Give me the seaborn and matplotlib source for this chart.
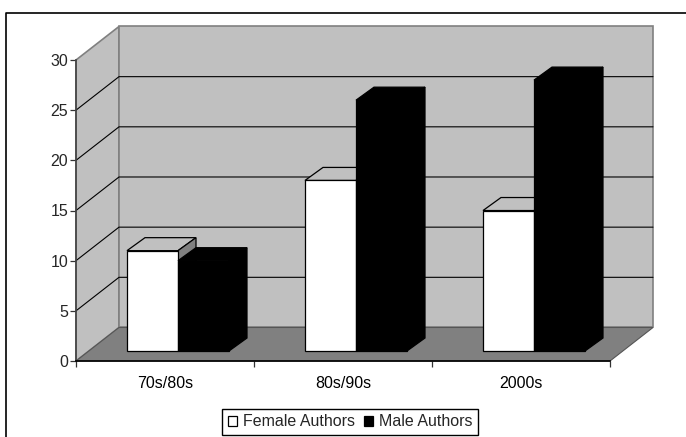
import pandas as pd
import matplotlib.pyplot as plt
import seaborn as sns
from matplotlib.lines import Line2D

periods = ['70s/80s', '80s/90s', '2000s']
female_authors = [10, 17, 14]
male_authors = [9, 25, 27]
y_ticks = [0, 5, 10, 15, 20, 25, 30]

df = pd.DataFrame({
    'period': periods * 2,
    'count': female_authors + male_authors,
    'author': ['Female Authors'] * 3 + ['Male Authors'] * 3,
})

sns.set_style('white')
plt.rcParams['font.family'] = ['Liberation Sans', 'DejaVu Sans']
plt.rcParams['font.size'] = 10

W, H = 686, 437
fig = plt.figure(figsize=(W / 100, H / 100), dpi=100, facecolor='white')


def axes_box(left, right, bottom, top):
    # pixel box, measured from the top of the image
    return [left / W, 1 - bottom / H, (right - left) / W, (bottom - top) / H]


# outer chart border, cut off by the image on the right and bottom
fig.add_artist(Line2D([6 / W, 6 / W, 1], [0, 1 - 13 / H, 1 - 13 / H], color='black', lw=1.2))

ax = fig.add_axes(axes_box(76, 610, 361, 60))
ax.set_xlim(-0.5, 2.5)
ax.set_ylim(0, 30)
ax.patch.set_alpha(0)

# depth of the fake 3d box, in data units
dx = 43 / 178
dy = 33.5 / 10.03

wall = '#c0c0c0'
floor = '#808080'
ax.fill([-0.5, -0.5 + dx, -0.5 + dx, -0.5], [0, dy, 30 + dy, 30], color=wall, ec=floor, lw=1.2, clip_on=False, zorder=0)
ax.fill([-0.5 + dx, 2.5 + dx, 2.5 + dx, -0.5 + dx], [dy, dy, 30 + dy, 30 + dy], color=wall, ec=floor, lw=1.2, clip_on=False, zorder=0)
ax.fill([-0.5, -0.5 + dx, 2.5 + dx, 2.5], [0, dy, dy, 0], color=floor, ec='#555555', lw=0.8, clip_on=False, zorder=0.5)

for t in y_ticks[1:-1]:
    ax.plot([-0.5, -0.5 + dx, 2.5 + dx], [t, t + dy, t + dy], color='black', lw=0.8, clip_on=False, zorder=0.2)

sns.despine(ax=ax, top=True, right=True)
ax.spines['left'].set_color('#444444')
ax.spines['left'].set_linewidth(1.2)
ax.spines['bottom'].set_color('black')
ax.spines['bottom'].set_linewidth(1.2)
ax.spines['bottom'].set_zorder(3)

ax.set_xticks(range(3))
ax.set_xticklabels(periods, fontsize=11.5)
ax.set_xticks([-0.5, 0.5, 1.5, 2.5], minor=True)
ax.set_yticks(y_ticks)
ax.tick_params(axis='x', which='major', length=0, pad=11, colors='black')
ax.tick_params(axis='x', which='minor', bottom=True, length=4, width=0.9, color='#333333')
ax.tick_params(axis='y', left=True, length=4, width=0.9, pad=1.5, labelsize=11.5, color='#333333')

# bars sit a bit into the box, so they get their own shifted axes
ax_bar = fig.add_axes(axes_box(89, 623, 351, 50))
ax_bar.patch.set_alpha(0)
sns.barplot(data=df, x='period', y='count', hue='author', palette=['white', 'black'],
            width=0.573, edgecolor='black', linewidth=0.9, ax=ax_bar, legend=False,
            saturation=1, order=periods)
ax_bar.set_xlim(-0.5, 2.5)
ax_bar.set_ylim(0, 30)
ax_bar.axis('off')

bar_dx = 18 / 178
bar_dy = 13 / 10.03

styles = [('#c0c0c0', '#808080', 'black', 2), ('black', 'black', 'black', 3)]
for container, (top_c, side_c, edge_c, z) in zip(ax_bar.containers, styles):
    for bar in container:
        x0 = bar.get_x()
        x1 = x0 + bar.get_width()
        h = bar.get_height()
        ax_bar.fill([x0, x0 + bar_dx, x1 + bar_dx, x1], [h, h + bar_dy, h + bar_dy, h],
                    fc=top_c, ec=edge_c, lw=0.9, clip_on=False, zorder=z)
        ax_bar.fill([x1, x1 + bar_dx, x1 + bar_dx, x1], [0, bar_dy, h + bar_dy, h],
                    fc=side_c, ec=edge_c, lw=0.9, clip_on=False, zorder=z)
        bar.set_zorder(z + 0.5)
        bar.set_clip_on(False)

handles = [ax_bar.containers[0][0], ax_bar.containers[1][0]]
leg = fig.legend(handles, ['Female Authors', 'Male Authors'], loc='center',
                 bbox_to_anchor=(350 / W, 1 - 422 / H), ncol=2, frameon=True, fancybox=False,
                 edgecolor='black', framealpha=1, fontsize=11.5, handlelength=0.6, handleheight=0.6,
                 handletextpad=0.35, columnspacing=0.55, borderpad=0.35, borderaxespad=0)
leg.get_frame().set_linewidth(1.0)

plt.savefig('out.png', dpi=100)
